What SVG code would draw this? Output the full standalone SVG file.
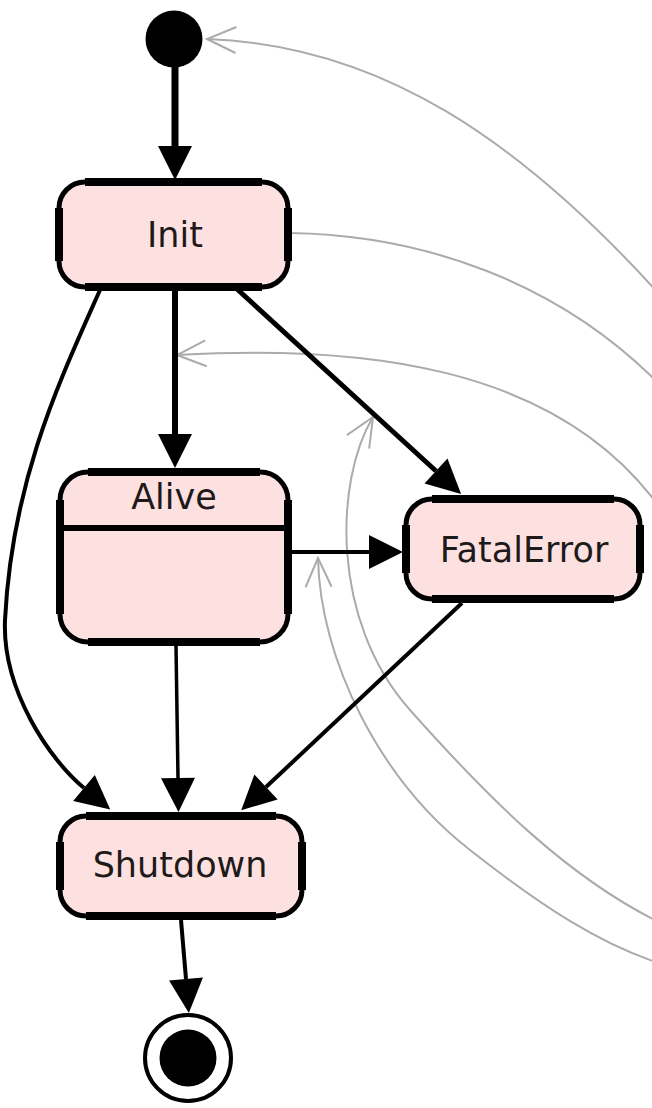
<svg xmlns="http://www.w3.org/2000/svg" width="652" height="1108" viewBox="0 0 652 1108">
  <style>
    .state { fill: #fde1e1; stroke: #000; stroke-width: 5; }
    .bar { fill: none; stroke: #000; stroke-width: 8; }
    .label { font-family: "DejaVu Sans", "Liberation Sans", sans-serif; font-size: 35px; fill: #1e1a1a; text-anchor: middle; }
    .edge { fill: none; stroke: #000; }
    .ref { fill: none; stroke: #ababab; stroke-width: 2; }
  </style>
  <defs>
    <marker id="head" markerUnits="userSpaceOnUse" viewBox="-1 -18 37 36" markerWidth="37" markerHeight="36" refX="0" refY="0" orient="auto" overflow="visible">
      <path d="M0,-17 L34,0 L0,17 z" fill="#000"/>
    </marker>
    <marker id="open" markerUnits="userSpaceOnUse" viewBox="-32 -16 34 32" markerWidth="34" markerHeight="32" refX="0" refY="0" orient="auto-start-reverse" overflow="visible">
      <path d="M-29,-13 L0,0 L-29,13" fill="none" stroke="#ababab" stroke-width="2"/>
    </marker>
  </defs>

  <rect width="652" height="1108" fill="#fff"/>

  <!-- transitions -->
  <g id="connectors">
    <!-- light references running off to the right -->
    <path class="ref" d="M207,39 C380,45 520,140 660,295" marker-start="url(#open)"/>
    <path class="ref" d="M290,233 C420,235 560,280 665,390"/>
    <path class="ref" d="M177,355 C350,345 560,360 665,515" marker-start="url(#open)"/>
    <path class="ref" d="M373,417 C335,480 330,620 410,710 S570,880 665,925" marker-start="url(#open)"/>
    <path class="ref" d="M318,558 C320,660 380,780 470,850 C540,905 600,945 665,965" marker-start="url(#open)"/>

    <!-- state transitions -->
    <path class="edge" stroke-width="7" d="M175,66 L175,146" marker-end="url(#head)"/>
    <path class="edge" stroke-width="6" d="M175,289 L175,434" marker-end="url(#head)"/>
    <path class="edge" stroke-width="5" d="M237,289 L436,471" marker-end="url(#head)"/>
    <path class="edge" stroke-width="4" d="M100,290 C60,380 12,480 5,620 C2,690 50,760 84,788" marker-end="url(#head)"/>
    <path class="edge" stroke-width="4" d="M291,552 L369,552" marker-end="url(#head)"/>
    <path class="edge" stroke-width="3.5" d="M176,646 L178,778" marker-end="url(#head)"/>
    <path class="edge" stroke-width="4" d="M462,603 L266,787" marker-end="url(#head)"/>
    <path class="edge" stroke-width="4" d="M181,920 L186,979" marker-end="url(#head)"/>
  </g>

  <g id="initial">
    <circle cx="174" cy="39" r="28.5" fill="#000"/>
  </g>

  <g id="init">
    <rect class="state" x="59" y="182" width="229" height="105" rx="26"/>
    <path class="bar" d="M85,182 H262 M288,208 V261 M262,287 H85 M59,261 V208"/>
    <text class="label" x="175" y="247">Init</text>
  </g>

  <g id="alive">
    <rect class="state" x="60" y="472" width="228" height="170" rx="28"/>
    <path class="bar" d="M88,472 H260 M288,500 V614 M260,642 H88 M60,614 V500"/>
    <line x1="60" y1="528" x2="288" y2="528" stroke="#000" stroke-width="6"/>
    <text class="label" x="174" y="509">Alive</text>
  </g>

  <g id="fatalerror">
    <rect class="state" x="406" y="499" width="234" height="100" rx="26"/>
    <path class="bar" d="M432,499 H614 M640,525 V573 M614,599 H432 M406,573 V525"/>
    <text class="label" x="524" y="562">FatalError</text>
  </g>

  <g id="shutdown">
    <rect class="state" x="60" y="816" width="242" height="100" rx="26"/>
    <path class="bar" d="M86,816 H276 M302,842 V890 M276,916 H86 M60,890 V842"/>
    <text class="label" x="180" y="877">Shutdown</text>
  </g>

  <g id="final">
    <circle cx="188" cy="1058" r="43" fill="#fff" stroke="#000" stroke-width="4"/>
    <circle cx="188" cy="1058" r="28.5" fill="#000"/>
  </g>
</svg>
